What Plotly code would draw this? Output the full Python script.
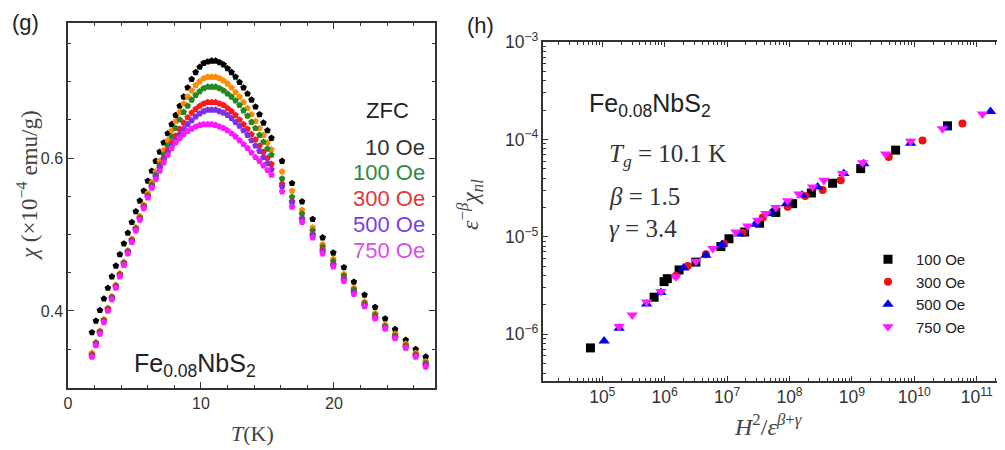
import plotly.graph_objects as go

# ---------------- panel (g): chi(T) ----------------
T_K = [1.8, 2.1, 2.4, 2.7, 3.0, 3.3, 3.6, 3.9, 4.2, 4.5, 4.8, 5.1, 5.4, 5.7, 6.0,
       6.3, 6.6, 6.9, 7.2, 7.5, 7.8, 8.1, 8.4, 8.7, 9.0, 9.3, 9.6, 9.9, 10.2, 10.5, 10.8,
       11.1, 11.4, 11.7, 12.0, 12.3, 12.6, 12.9, 13.2, 13.5, 13.8, 14.1, 14.4, 14.7, 15.0, 15.3,
       16.1, 16.85, 17.6, 18.4, 19.15, 19.95, 20.75, 21.5, 22.3, 23.1, 23.85, 24.6, 25.4, 26.15, 26.9]

chi_10 = [0.372, 0.387, 0.401, 0.416, 0.430, 0.445, 0.459, 0.474, 0.488, 0.502, 0.516, 0.530, 0.544, 0.557, 0.570,
          0.583, 0.596, 0.608, 0.620, 0.632, 0.644, 0.656, 0.668, 0.680, 0.692, 0.703, 0.712, 0.719, 0.724, 0.726, 0.727,
          0.727, 0.725, 0.722, 0.717, 0.712, 0.706, 0.699, 0.692, 0.684, 0.676, 0.667, 0.657, 0.646, 0.636, 0.626,
          0.596, 0.567, 0.543, 0.520, 0.496, 0.476, 0.457, 0.438, 0.421, 0.405, 0.390, 0.376, 0.362, 0.350, 0.340]
chi_50 = [0.345, 0.359, 0.374, 0.389, 0.404, 0.419, 0.434, 0.449, 0.464, 0.479, 0.494, 0.509, 0.524, 0.539, 0.554,
          0.568, 0.582, 0.596, 0.610, 0.623, 0.636, 0.648, 0.660, 0.671, 0.680, 0.688, 0.695, 0.700, 0.704, 0.706, 0.706,
          0.706, 0.704, 0.701, 0.697, 0.692, 0.686, 0.680, 0.673, 0.665, 0.657, 0.648, 0.639, 0.630, 0.620, 0.611,
          0.582, 0.557, 0.532, 0.509, 0.487, 0.468, 0.448, 0.430, 0.412, 0.397, 0.382, 0.370, 0.357, 0.345, 0.334]
chi_100 = [0.343, 0.358, 0.373, 0.388, 0.403, 0.418, 0.433, 0.448, 0.463, 0.478, 0.493, 0.508, 0.522, 0.537, 0.551,
           0.565, 0.578, 0.591, 0.604, 0.616, 0.628, 0.639, 0.650, 0.660, 0.668, 0.676, 0.682, 0.687, 0.691, 0.693, 0.693,
           0.693, 0.691, 0.688, 0.684, 0.680, 0.675, 0.669, 0.662, 0.655, 0.647, 0.639, 0.630, 0.621, 0.612, 0.604,
           0.573, 0.549, 0.527, 0.505, 0.484, 0.465, 0.446, 0.428, 0.410, 0.395, 0.380, 0.368, 0.355, 0.343, 0.332]
chi_300 = [0.342, 0.357, 0.372, 0.387, 0.402, 0.417, 0.432, 0.447, 0.462, 0.477, 0.492, 0.507, 0.521, 0.536, 0.550,
           0.563, 0.576, 0.588, 0.599, 0.610, 0.620, 0.629, 0.638, 0.646, 0.653, 0.659, 0.664, 0.668, 0.671, 0.673, 0.673,
           0.673, 0.671, 0.669, 0.665, 0.661, 0.656, 0.650, 0.644, 0.638, 0.631, 0.624, 0.616, 0.608, 0.600, 0.592,
           0.566, 0.543, 0.521, 0.500, 0.480, 0.461, 0.442, 0.425, 0.408, 0.392, 0.378, 0.366, 0.353, 0.342, 0.330]
chi_500 = [0.341, 0.356, 0.371, 0.386, 0.401, 0.416, 0.431, 0.446, 0.461, 0.476, 0.491, 0.506, 0.520, 0.535, 0.549,
           0.562, 0.575, 0.587, 0.598, 0.607, 0.616, 0.624, 0.631, 0.638, 0.644, 0.649, 0.654, 0.658, 0.661, 0.663, 0.663,
           0.663, 0.661, 0.659, 0.656, 0.652, 0.647, 0.642, 0.636, 0.630, 0.623, 0.616, 0.609, 0.601, 0.593, 0.585,
           0.563, 0.542, 0.520, 0.499, 0.478, 0.460, 0.441, 0.424, 0.407, 0.391, 0.378, 0.365, 0.352, 0.341, 0.329]
chi_750 = [0.340, 0.355, 0.370, 0.385, 0.400, 0.415, 0.430, 0.445, 0.460, 0.475, 0.490, 0.505, 0.519, 0.534, 0.548,
           0.561, 0.572, 0.583, 0.594, 0.604, 0.613, 0.620, 0.626, 0.631, 0.635, 0.638, 0.641, 0.643, 0.644, 0.644, 0.644,
           0.643, 0.641, 0.639, 0.636, 0.632, 0.628, 0.623, 0.618, 0.613, 0.607, 0.601, 0.596, 0.590, 0.584, 0.578,
           0.556, 0.536, 0.516, 0.496, 0.475, 0.458, 0.439, 0.422, 0.406, 0.390, 0.377, 0.364, 0.352, 0.340, 0.327]

g_series = [chi_10, chi_50, chi_100, chi_300, chi_500, chi_750]
g_colors = ["#000000", "#ff8c00", "#1f8a1f", "#ff1a1a", "#7f2fe8", "#ff1aff"]

# ---------------- panel (h): scaling plot ----------------
h100_x = [6.46e4, 6.76e5, 9.77e5, 1.10e6, 1.70e6, 3.16e6, 7.94e6, 1.07e7, 1.91e7, 3.31e7, 6.03e7,
          1.12e8, 2.24e8, 4.90e8, 1.38e9, 5.01e9, 3.39e10]
h100_y = [7.24e-7, 2.40e-6, 3.47e-6, 3.72e-6, 4.57e-6, 5.50e-6, 7.94e-6, 9.55e-6, 1.12e-5, 1.38e-5, 1.78e-5,
          2.19e-5, 2.82e-5, 3.55e-5, 5.01e-5, 7.76e-5, 1.38e-4]
h300_x = [1.51e6, 2.34e6, 4.57e6, 8.91e6, 1.78e7, 3.72e7, 9.33e7, 1.78e8, 3.39e8, 6.61e8, 3.89e9, 1.35e10, 5.89e10]
h300_y = [3.98e-6, 5.01e-6, 6.61e-6, 8.51e-6, 1.10e-5, 1.58e-5, 2.04e-5, 2.63e-5, 3.02e-5, 3.80e-5, 6.61e-5,
          9.77e-5, 1.46e-4]
h500_x = [1.07e5, 1.86e5, 5.13e5, 8.71e5, 2.00e6, 4.57e6, 8.32e6, 1.58e7, 2.82e7, 5.01e7, 8.91e7, 1.58e8,
          2.82e8, 7.41e8, 1.55e9, 8.71e9, 3.16e10, 1.66e11]
h500_y = [8.51e-7, 1.15e-6, 2.04e-6, 2.69e-6, 4.79e-6, 6.46e-6, 8.32e-6, 1.07e-5, 1.35e-5, 1.74e-5, 2.19e-5,
          2.69e-5, 3.24e-5, 4.47e-5, 5.62e-5, 9.12e-5, 1.32e-4, 1.93e-4]
h750_x = [1.86e5, 3.02e5, 5.13e5, 8.71e5, 1.51e6, 3.16e6, 5.89e6, 1.38e7, 2.14e7, 3.09e7, 4.17e7, 6.03e7,
          9.33e7, 1.41e8, 2.34e8, 3.55e8, 7.08e8, 1.48e9, 3.47e9, 8.71e9, 2.82e10, 1.23e11]
h750_y = [1.20e-6, 1.58e-6, 2.14e-6, 2.75e-6, 3.89e-6, 5.62e-6, 7.59e-6, 1.12e-5, 1.29e-5, 1.48e-5, 1.74e-5,
          2.00e-5, 2.34e-5, 2.75e-5, 3.24e-5, 3.80e-5, 4.47e-5, 5.75e-5, 7.08e-5, 9.55e-5, 1.29e-4, 1.82e-4]

h_labels = ["100 Oe", "300 Oe", "500 Oe", "750 Oe"]
h_symbols = ["square", "circle", "triangle-up", "triangle-down"]
h_sizes = [9, 8, 10, 10]
h_colors = ["#000000", "#ee1111", "#0000ee", "#ff1aff"]

W, H = 1005, 450
OX, OY = 8, 8   # page body offset of the plot div


def px(x):
    return (x - OX) / W


def py(y):
    return 1 - (y - OY) / H


fig = go.Figure()

for ys, c in zip(g_series, g_colors):
    fig.add_trace(go.Scatter(x=T_K, y=ys, mode="markers", xaxis="x", yaxis="y",
                             marker=dict(symbol="pentagon", size=7, color=c, line=dict(width=0)),
                             showlegend=False, hoverinfo="skip"))

h_data = [(h100_x, h100_y), (h300_x, h300_y), (h500_x, h500_y), (h750_x, h750_y)]
for (xs, ys), lab, sym, sz, c in zip(h_data, h_labels, h_symbols, h_sizes, h_colors):
    fig.add_trace(go.Scatter(x=xs, y=ys, mode="markers", xaxis="x2", yaxis="y2", name=lab,
                             marker=dict(symbol=sym, size=sz, color=c, line=dict(width=0)),
                             showlegend=True))

axis_common = dict(showline=True, linecolor="#333333", linewidth=1.5, mirror="ticks",
                   ticks="inside", tickcolor="#333333", showgrid=False, zeroline=False,
                   automargin=False)
font_g = dict(family="Liberation Sans", size=16, color="#333333")
font_h = dict(family="Liberation Sans", size=14, color="#333333")

fig.update_layout(
    template="none",
    width=W, height=H, margin=dict(l=0, r=0, t=0, b=0, autoexpand=False),
    paper_bgcolor="white", plot_bgcolor="white",
    xaxis=dict(domain=[px(68), px(435)], range=[0, 27.6], tickvals=[0, 10, 20], ticklen=6,
               minor=dict(dtick=2, tick0=0, ticks="inside", ticklen=3, tickcolor="#333333"),
               anchor="y", tickfont=font_g, **axis_common),
    yaxis=dict(domain=[py(388), py(23)], range=[0.2993, 0.7765], tickvals=[0.4, 0.6],
               ticktext=["0.4", "0.6"], ticklen=6,
               minor=dict(dtick=0.05, tick0=0, ticks="inside", ticklen=3, tickcolor="#333333"),
               anchor="x", tickfont=font_g, **axis_common),
    xaxis2=dict(domain=[px(543), px(1003)], type="log", range=[4.05, 11.42], dtick=1,
                exponentformat="power", ticklen=5,
                minor=dict(dtick="D1", ticks="inside", ticklen=3, tickcolor="#333333"),
                anchor="y2", tickfont=font_h, **axis_common),
    yaxis2=dict(domain=[py(381), py(42)], type="log", range=[-6.48, -3], dtick=1,
                exponentformat="power", ticklen=5,
                minor=dict(dtick="D1", ticks="inside", ticklen=3, tickcolor="#333333"),
                anchor="x2", tickfont=font_h, **axis_common),
    legend=dict(x=px(860), y=py(243), xanchor="left", yanchor="top", bgcolor="rgba(0,0,0,0)",
                itemwidth=46, tracegroupgap=0,
                font=dict(family="Liberation Sans", size=15, color="#222222")),
)

serif = "Liberation Serif"
sans = "Liberation Sans"
ann = []


def add(text, x, y, size, color="#222222", family=sans, xanchor="center", angle=0):
    ann.append(dict(text=text, x=px(x), y=py(y), xref="paper", yref="paper", showarrow=False,
                    xanchor=xanchor, yanchor="middle", textangle=angle,
                    font=dict(family=family, size=size, color=color)))


add("(g)", 25, 23, 22)
add("(h)", 480, 25, 22)
add("<i>χ</i> (×10<sup>−4</sup> emu/g)", 27, 185, 23, "#444444", serif, angle=-90)
add("<i>T</i>(K)", 252, 433, 22, "#444444", serif)
add("<i>ε</i><sup>−<i>β</i></sup><i>χ</i><sub><i>nl</i></sub>", 470, 205, 24, "#444444", serif, angle=-90)
add("<i>H</i><sup>2</sup>/<i>ε</i><sup><i>β</i>+<i>γ</i></sup>", 768, 425, 24, "#444444", serif)
add("Fe<sub>0.08</sub>NbS<sub>2</sub>", 195, 365, 25, "#222222")
add("Fe<sub>0.08</sub>NbS<sub>2</sub>", 587, 105, 25, "#222222", xanchor="left")
add("<i>T</i><sub><i>g</i></sub> = 10.1 K", 607, 155, 25, "#333333", serif, xanchor="left")
add("<i>β</i> = 1.5", 607, 196, 25, "#333333", serif, xanchor="left")
add("<i>γ</i> = 3.4", 607, 228, 25, "#333333", serif, xanchor="left")

add("ZFC", 387, 110, 22, "#222222")
for txt, yy, col in [("10 Oe", 147, "#333333"), ("100 Oe", 172, "#2e8b3e"), ("300 Oe", 199, "#e03a3a"),
                     ("500 Oe", 224, "#7a3fe0"), ("750 Oe", 250, "#d84fe6")]:
    add(txt, 427, yy, 22, col, xanchor="right")

fig.update_layout(annotations=ann)
fig.write_html("out.html")
